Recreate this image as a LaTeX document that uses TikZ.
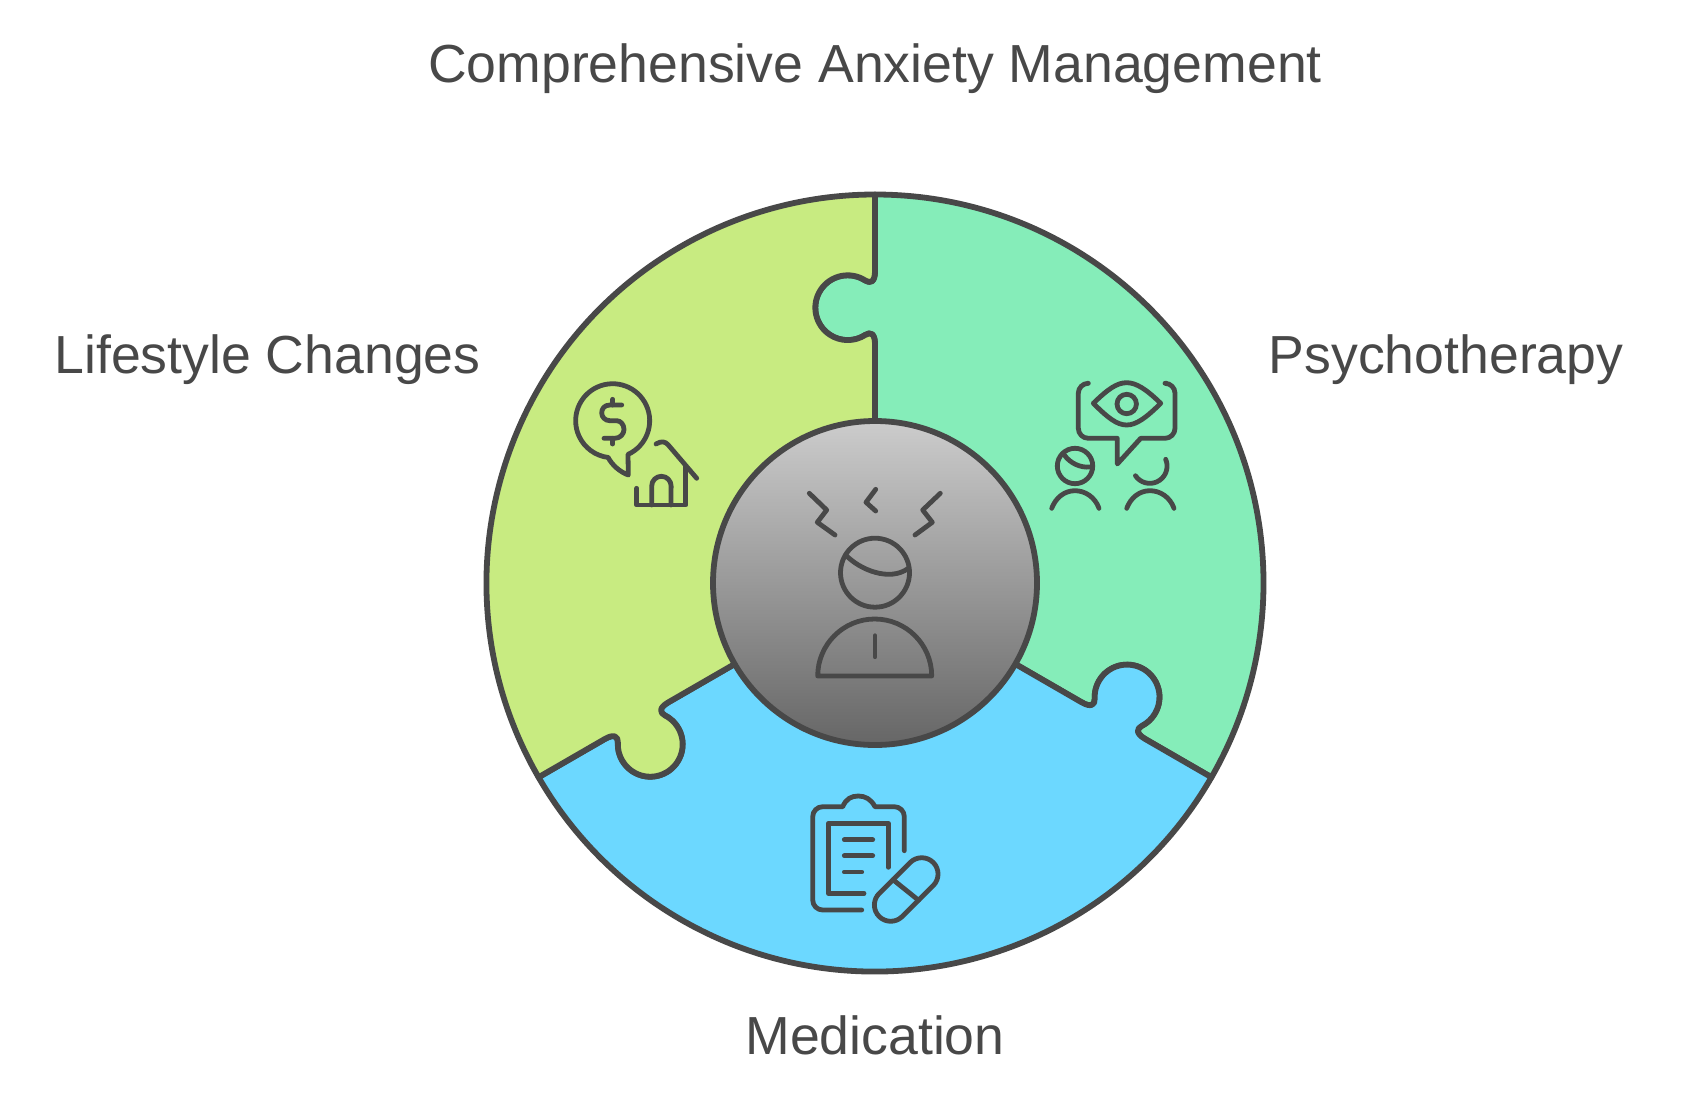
\documentclass[tikz,border=0pt]{standalone}
\usepackage{fontspec}
\setmainfont{Liberation Sans}
\definecolor{ink}{HTML}{484848}
\definecolor{limepiece}{HTML}{C8EB81}
\definecolor{mintpiece}{HTML}{85EDB9}
\definecolor{bluepiece}{HTML}{6CD8FF}
\tikzset{
turn/.style={shift={(875,583)},rotate=#1},
piece/.style={draw=ink,line width=2.9pt,line join=round},
icon/.style={draw=ink,line width=2.4pt,line cap=round,line join=round},
label/.style={text=ink,font=\fontsize{26.8}{30}\selectfont,anchor=base}
}
% seam from the rim to the middle, and back
\newcommand{\seamin}[1]{
{[turn=#1] -- (0,-312) .. controls (0,-301) and (-4.6,-299.2) .. (-9.65,-302.47)
arc (-57:-303:32.4) .. controls (-4.6,-251.4) and (0,-249.6) .. (0,-238.6) -- (0,0)}
}
\newcommand{\seamout}[1]{
{[turn=#1] -- (0,-238.6) .. controls (0,-249.6) and (-4.6,-251.4) .. (-9.65,-248.13)
arc (-303:-57:32.4) .. controls (-4.6,-299.2) and (0,-301) .. (0,-312) -- (0,-388.5)}
}
\newcommand{\puzzlepiece}[2]{
\path[piece,fill=#1] {[turn=#2] (0,-388.5) arc (-90:30:388.5)}
\seamin{#2-120} \seamout{#2} -- cycle;
}
\begin{document}
\begin{tikzpicture}[x=0.5pt,y=-0.5pt]
\useasboundingbox (0,0) rectangle (1685,1102);

\puzzlepiece{mintpiece}{0}
\puzzlepiece{bluepiece}{-120}
\puzzlepiece{limepiece}{-240}

\path[piece,top color=black!20,bottom color=black!60] (875,583) circle[radius=162];

% person in the middle
\draw[icon] (809.3,493.3) -- (826.7,510) -- (817.3,522.3) -- (835,535);
\draw[icon] (875.7,489.3) -- (866,502.3) -- (875.7,511);
\draw[icon] (940.3,493.3) -- (922.7,510) -- (932.3,522.3) -- (915,535);
\draw[icon] (875,572.7) circle[radius=34.5];
\draw[icon] (845.7,555) .. controls (860,570) and (890,582) .. (908.3,568.3);
\draw[icon] (817.7,676) arc (180:360:57) -- cycle;
\draw[icon] (875,635.7) -- (875,656.7);

% eye and two people
\draw[icon] (1087.3,383.3) [rounded corners=5pt] -- (1078.3,383.3) -- (1078.3,438.3) [sharp corners] -- (1117.3,438.3)
 -- (1117.3,464) -- (1140.7,438.3) [rounded corners=5pt] -- (1175,438.3) -- (1175,383.3) -- (1166.7,383.3);
\draw[icon] (1093.3,403.3) .. controls (1108,389) and (1117,382.7) .. (1126.7,382.7)
 .. controls (1136,382.7) and (1146,389) .. (1160.7,403.3)
 .. controls (1146,418) and (1136,425) .. (1126.7,425)
 .. controls (1117,425) and (1108,418) .. cycle;
\draw[icon] (1126.7,404) circle[radius=9.7];
\draw[icon] (1075,466) circle[radius=17.7];
\draw[icon] (1064.3,455) .. controls (1070,463) and (1080,468) .. (1090,467);
\draw[icon] (1051.7,508.3) .. controls (1056,497) and (1065,490.7) .. (1075,490.7) .. controls (1085,490.7) and (1095,497) .. (1099,508.3);
\draw[icon] (1165.7,459.3) arc (-23:146:17.3);
\draw[icon] (1126.7,508.3) .. controls (1131,497) and (1140,490.7) .. (1150,490.7) .. controls (1160,490.7) and (1170,497) .. (1174,508.3);

% coin bubble and house
\draw[icon] (628,454.4) arc (65.5:-263:37) .. controls (612,465) and (620,472) .. (628.3,475) -- cycle;
\draw[icon] (621.7,405) -- (610,405) .. controls (604,405) and (601.7,409) .. (601.7,413) .. controls (601.7,417) and (605,420.7) .. (610,420.7)
 -- (616.7,420.7) .. controls (621,420.7) and (624,425) .. (624,429.5) .. controls (624,434) and (620,438.3) .. (615,438.3) -- (604,438.3);
\draw[icon] (612.7,399.3) -- (612.7,405);
\draw[icon] (612.7,438.3) -- (612.7,444);
\draw[icon] (656,444) .. controls (661,441) and (665,441) .. (668.3,445) -- (696.7,478.3);
\draw[icon] (685.7,466.7) -- (685.7,505) -- (636.7,505) -- (636.7,488.3);
\draw[icon] (651.7,505) -- (651.7,486) arc (180:360:9.7) -- (671,505);

% clipboard and pill
\draw[icon] (904.3,850.7) [rounded corners=5pt] -- (904.3,806.7) [sharp corners] -- (875,806.7)
 .. controls (871,799) and (865,796) .. (858.3,796) .. controls (851,796) and (846,799) .. (842.7,806.7)
 [rounded corners=5pt] -- (812.7,806.7) -- (812.7,910) -- (861.7,910);
\draw[icon] (888.3,867.3) -- (888.3,823.3) -- (828.3,823.3) -- (828.3,893.3) -- (864,893.3);
\draw[icon] (844.3,839.7) -- (872.7,839.7);
\draw[icon] (844.3,855.7) -- (872.7,855.7);
\draw[icon] (844.3,872) -- (861.7,872);
\draw[icon] (879.2,893.5) -- (910.2,862.5) arc (-135:45:16.3) -- (902.2,916.5) arc (45:225:16.3);
\draw[icon] (893,879.7) -- (918.5,900.2);

\node[label] (title) at (875,83) {Comprehensive Anxiety Management};
\node[label] (lifestyle) at (267.5,373) {Lifestyle Changes};
\node[label] (therapy) at (1446,373) {Psychotherapy};
\node[label] (medication) at (875,1054) {Medication};
\end{tikzpicture}
\end{document}
